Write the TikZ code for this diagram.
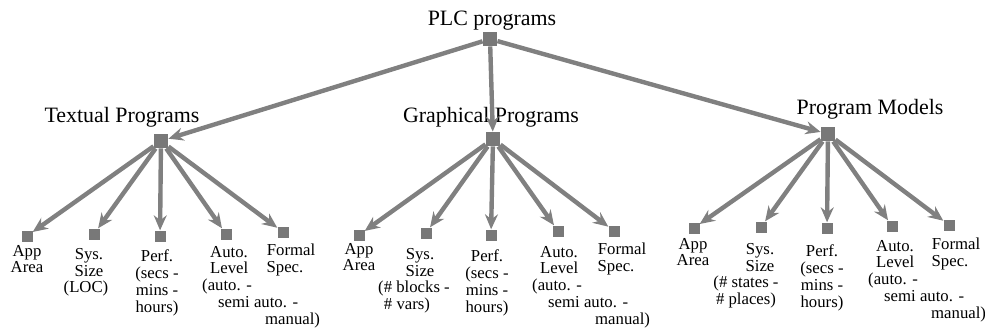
\documentclass[tikz,border=0pt]{standalone}
\usepackage{fontspec}
\setmainfont{Liberation Serif}
\usetikzlibrary{arrows.meta,positioning}
\definecolor{edgegray}{rgb}{0.5,0.5,0.5}
\definecolor{boxgray}{rgb}{0.47,0.47,0.47}
\tikzset{
  catsq/.style={fill=boxgray,inner sep=0pt,minimum size=14.5bp},
  leafsq/.style={fill=boxgray,inner sep=0pt,minimum size=11bp},
  catlbl/.style={font=\fontsize{22}{22}\selectfont,inner sep=0pt},
  leaflbl/.style={font=\fontsize{16.8}{16.8}\selectfont,inner sep=0pt,anchor=north,align=center},
  autolbl/.style={leaflbl,anchor=north west,align=left},
  edge/.style={draw=edgegray,line width=4.4bp,-{Stealth[length=15bp,width=13bp,inset=5bp]}},
}
\newcommand{\autotext}{\hbox to 8bp{}Auto.\\\hbox to 8bp{}Level\\(auto. -\\\hbox to 16bp{}semi auto. -\\\hbox to 63bp{}manual)}
\newcommand{\formaltext}{Formal\\Spec.\hbox to 12bp{}}
\newcommand{\perftext}{Perf.\\(secs -\\mins -\\hours)}
\begin{document}
\begin{tikzpicture}[x=1bp,y=-1bp]
\useasboundingbox (0,0) rectangle (985,330);
%%
  % Node: root
  \node[catsq] (plc) at (490,39) {};
  \node[catlbl] (plcL) at (492,21) {PLC programs};
  % Node: Textual Programs
  \node[catsq] (txt) at (161,141) {};
  \node[catlbl] (txtL) at (122,117) {Textual Programs};
  % Node: Graphical Programs
  \node[catsq] (gfx) at (493,139) {};
  \node[catlbl] (gfxL) at (491,117) {Graphical Programs};
  % Node: Program Models
  \node[catsq] (mdl) at (828,134) {};
  \node[catlbl] (mdlL) at (870,109) {Program Models};
%
  % Leaves: Textual Programs
  \node[leafsq] (txtApp) at (27,236) {};
  \node[leafsq] (txtSys) at (94,234) {};
  \node[leafsq] (txtPerf) at (160,236) {};
  \node[leafsq] (txtAuto) at (226,234) {};
  \node[leafsq] (txtSpec) at (283,232) {};
  \node[leaflbl] (txtAppL) at (27,245) {App\\Area};
  \node[leaflbl] (txtSysL) at (86,248) {\hbox to 6bp{}Sys.\\\hbox to 6bp{}Size\\(LOC)};
  \node[leaflbl] (txtPerfL) at (157,250) {\perftext};
  \node[autolbl] (txtAutoL) at (202,246) {\autotext};
  \node[leaflbl] (txtSpecL) at (291,244) {\formaltext};
%
  % Leaves: Graphical Programs
  \node[leafsq] (gfxApp) at (359,235) {};
  \node[leafsq] (gfxSys) at (426,233) {};
  \node[leafsq] (gfxPerf) at (491,235) {};
  \node[leafsq] (gfxAuto) at (558,231) {};
  \node[leafsq] (gfxSpec) at (614,231) {};
  \node[leaflbl] (gfxAppL) at (359,243) {App\\Area};
  \node[leaflbl] (gfxSysL) at (414,248) {\hbox to 12bp{}Sys.\\\hbox to 12bp{}Size\\(\# blocks -\\\# vars)\hbox to 14bp{}};
  \node[leaflbl] (gfxPerfL) at (487,250) {\perftext};
  \node[autolbl] (gfxAutoL) at (532,246) {\autotext};
  \node[leaflbl] (gfxSpecL) at (622,243) {\formaltext};
%
  % Leaves: Program Models
  \node[leafsq] (mdlApp) at (694,228) {};
  \node[leafsq] (mdlSys) at (761,227) {};
  \node[leafsq] (mdlPerf) at (827,228) {};
  \node[leafsq] (mdlAuto) at (892,226) {};
  \node[leafsq] (mdlSpec) at (949,225) {};
  \node[leaflbl] (mdlAppL) at (693,238) {App\\Area};
  \node[leaflbl] (mdlSysL) at (746,243) {\hbox to 28bp{}Sys.\\\hbox to 28bp{}Size\\(\# states -\\\# places)};
  \node[leaflbl] (mdlPerfL) at (822,245) {\perftext};
  \node[autolbl] (mdlAutoL) at (868,240) {\autotext};
  \node[leaflbl] (mdlSpecL) at (956,238) {\formaltext};
%%
  % Edge: PLC -> categories
  \draw[edge] (plc) -- (txt);
  \draw[edge] (plc) -- (gfx);
  \draw[edge] (plc) -- (mdl);
  % Edge: Textual -> leaves
  \draw[edge] (txt) -- (txtApp);
  \draw[edge] (txt) -- (txtSys);
  \draw[edge] (txt) -- (txtPerf);
  \draw[edge] (txt) -- (txtAuto);
  \draw[edge] (txt) -- (txtSpec);
  % Edge: Graphical -> leaves
  \draw[edge] (gfx) -- (gfxApp);
  \draw[edge] (gfx) -- (gfxSys);
  \draw[edge] (gfx) -- (gfxPerf);
  \draw[edge] (gfx) -- (gfxAuto);
  \draw[edge] (gfx) -- (gfxSpec);
  % Edge: Models -> leaves
  \draw[edge] (mdl) -- (mdlApp);
  \draw[edge] (mdl) -- (mdlSys);
  \draw[edge] (mdl) -- (mdlPerf);
  \draw[edge] (mdl) -- (mdlAuto);
  \draw[edge] (mdl) -- (mdlSpec);
%
\end{tikzpicture}
\end{document}
